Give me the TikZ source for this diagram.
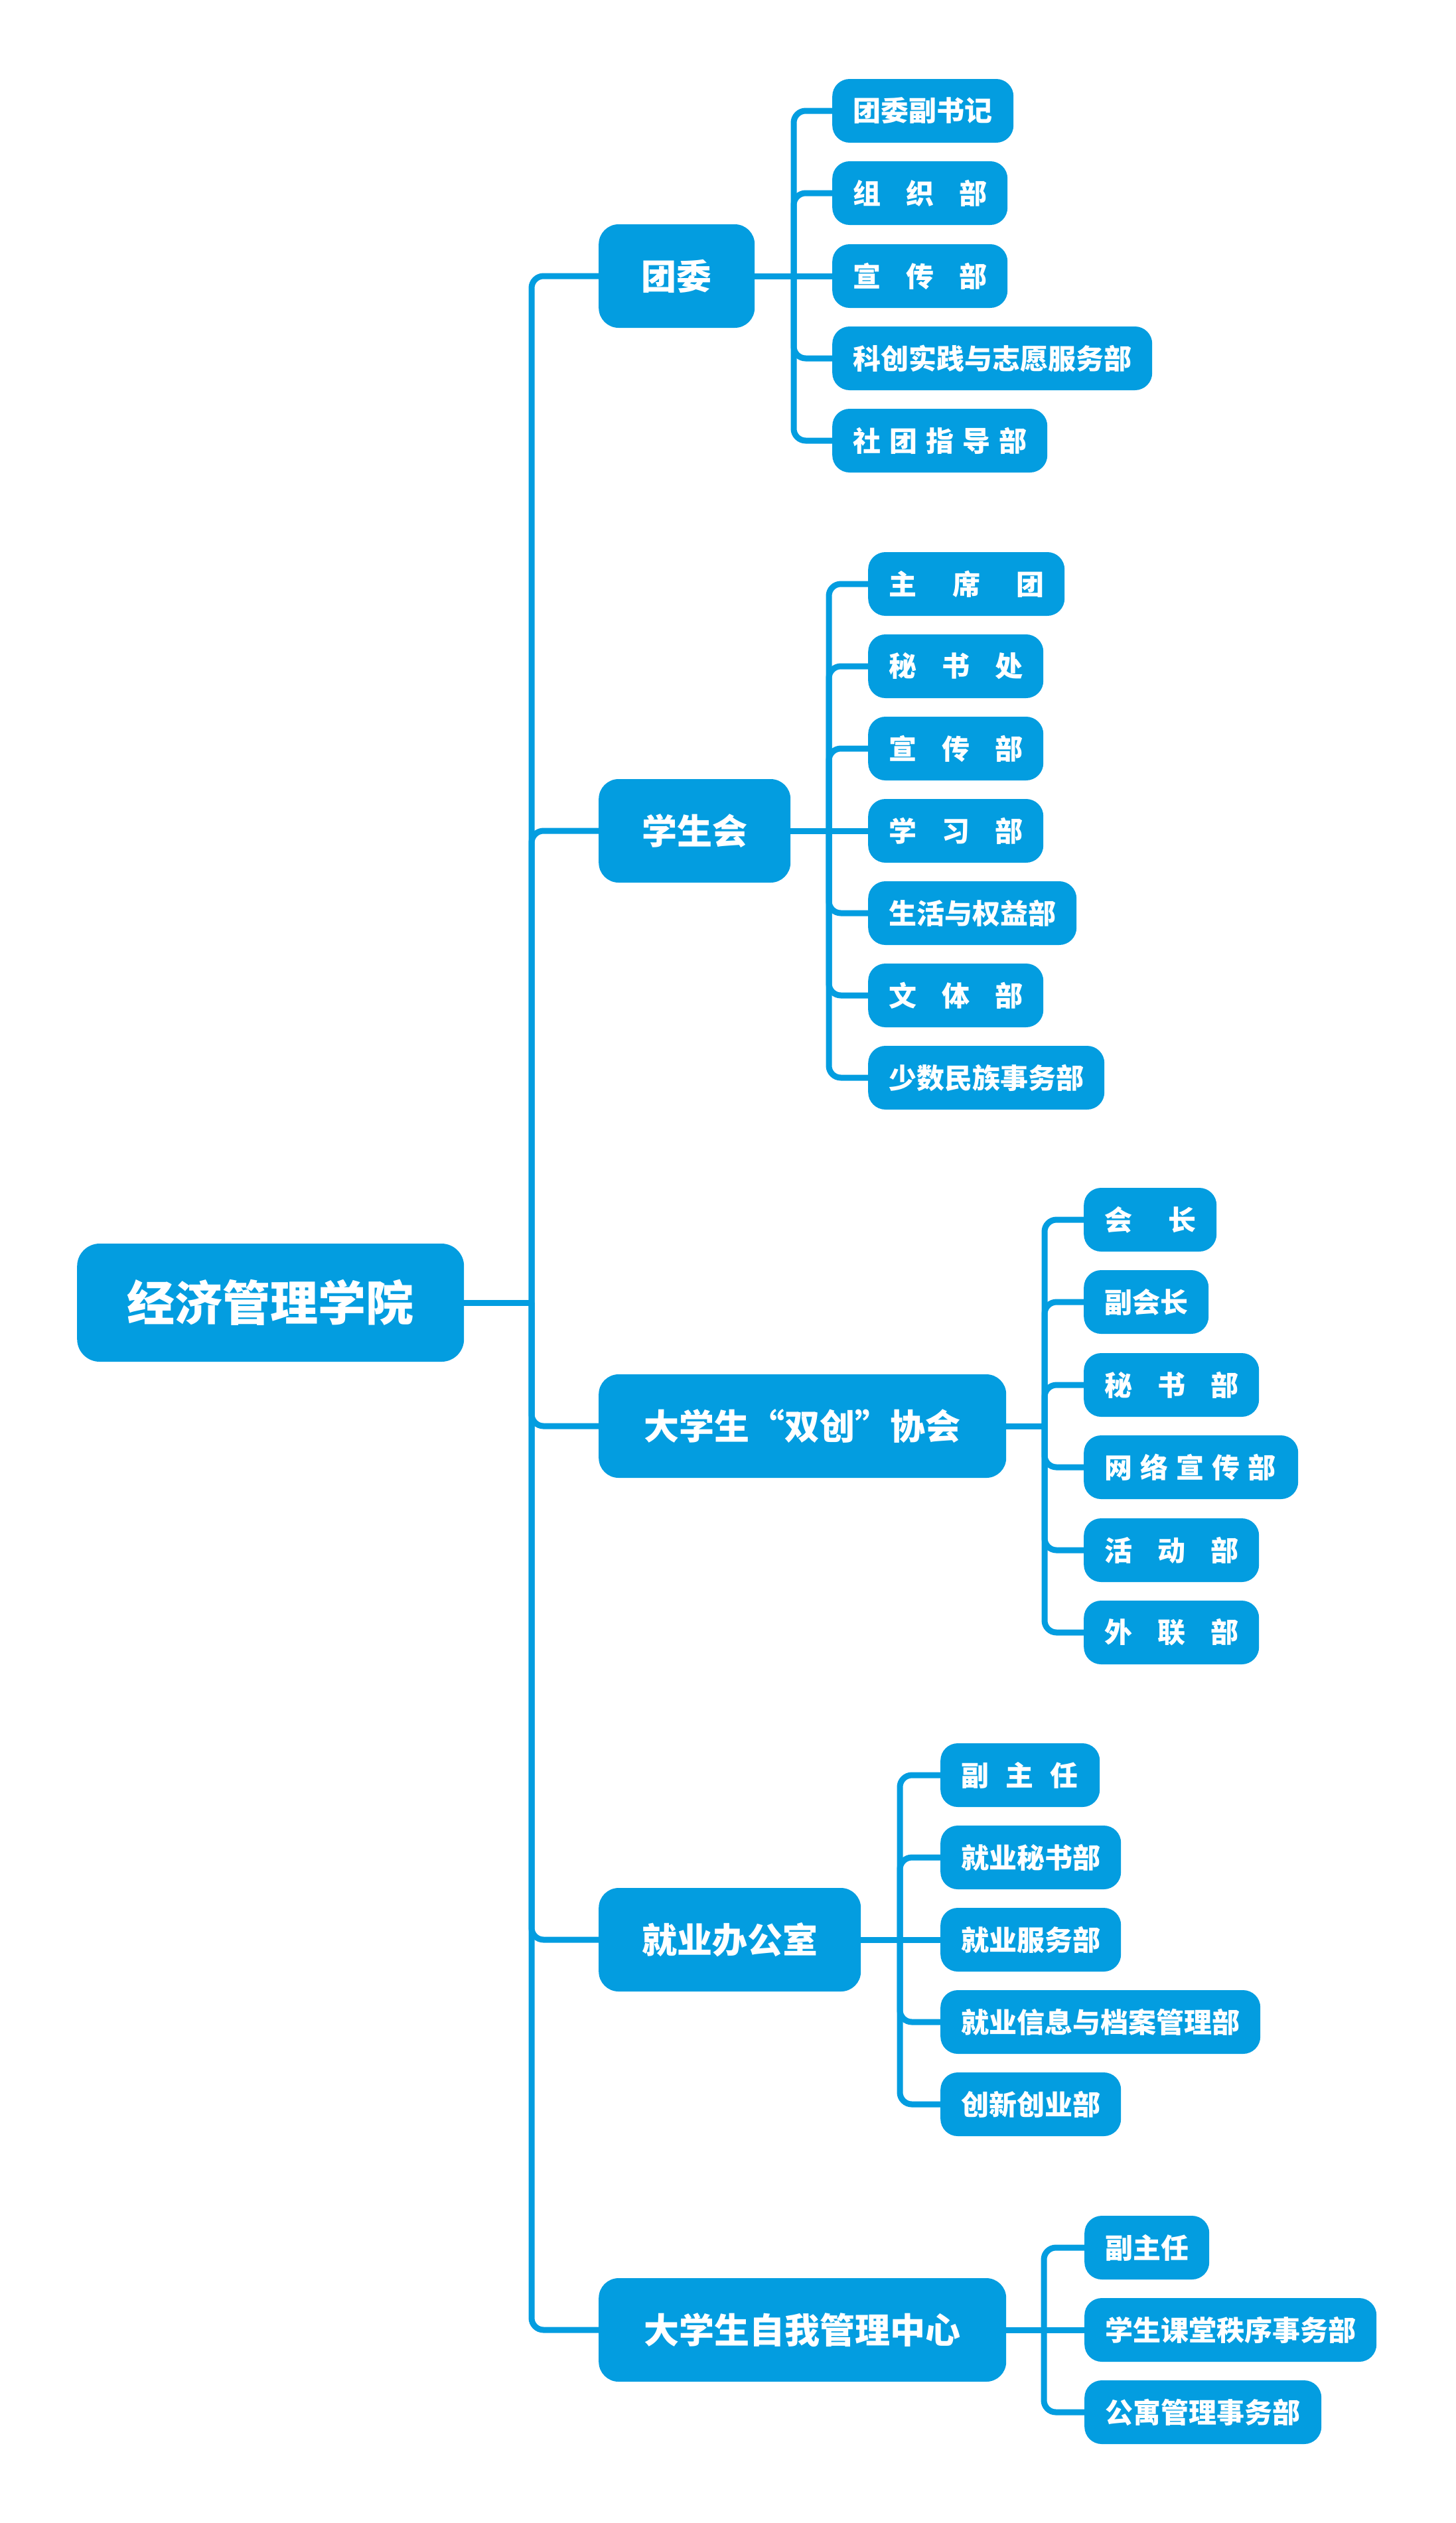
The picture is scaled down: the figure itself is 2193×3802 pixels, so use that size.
\documentclass[tikz,border=0pt]{standalone}
\usepackage{fontspec}
\newfontfamily\cjk{Noto Sans CJK SC}[BoldFont={Noto Sans CJK SC Black}]
\definecolor{org}{RGB}{3,157,224}
\begin{document}
\begin{tikzpicture}[x=1pt,y=-1pt,
  sbox/.style={fill=org, rounded corners=26pt, text=white,
    font=\cjk\bfseries\fontsize{42pt}{46pt}\selectfont,
    minimum height=96pt, inner xsep=31pt, inner ysep=0pt,
    anchor=west, align=left, text width=#1},
  mbox/.style={fill=org, rounded corners=30pt, text=white,
    font=\cjk\bfseries\fontsize{53pt}{58pt}\selectfont,
    minimum height=156pt, inner sep=0pt, anchor=west, minimum width=#1},
  rbox/.style={fill=org, rounded corners=34pt, text=white,
    font=\cjk\bfseries\fontsize{72pt}{78pt}\selectfont,
    minimum height=178pt, inner sep=0pt, anchor=west, minimum width=583pt},
  conn/.style={draw=org, line width=9pt, rounded corners=18pt}]
\useasboundingbox (0,0) rectangle (2193,3802);

% root
\node[rbox] (root) at (116,1963) {经济管理学院};

% level 1
\node[mbox=235pt] (tw) at (902,416) {团委};
\node[mbox=289pt] (xs) at (902,1252) {学生会};
\node[mbox=614pt] (sc) at (902,2149) {大学生“双创”协会};
\node[mbox=395pt] (jy) at (902,2923) {就业办公室};
\node[mbox=614pt] (zw) at (902,3511) {大学生自我管理中心};

% 团委 children
\node[sbox=211pt] (tw1) at (1254,167) {团委副书记};
\node[sbox=202pt] (tw2) at (1254,291) {组\hspace{38pt}织\hspace{38pt}部};
\node[sbox=202pt] (tw3) at (1254,416) {宣\hspace{38pt}传\hspace{38pt}部};
\node[sbox=420pt] (tw4) at (1254,540) {科创实践与志愿服务部};
\node[sbox=262pt] (tw5) at (1254,664) {社\hspace{13pt}团\hspace{13pt}指\hspace{13pt}导\hspace{13pt}部};

% 学生会 children
\node[sbox=234pt] (xs1) at (1308,880) {主\hspace{54pt}席\hspace{54pt}团};
\node[sbox=202pt] (xs2) at (1308,1004) {秘\hspace{38pt}书\hspace{38pt}处};
\node[sbox=202pt] (xs3) at (1308,1128) {宣\hspace{38pt}传\hspace{38pt}部};
\node[sbox=202pt] (xs4) at (1308,1252) {学\hspace{38pt}习\hspace{38pt}部};
\node[sbox=252pt] (xs5) at (1308,1376) {生活与权益部};
\node[sbox=202pt] (xs6) at (1308,1500) {文\hspace{38pt}体\hspace{38pt}部};
\node[sbox=294pt] (xs7) at (1308,1624) {少数民族事务部};

% 双创 children
\node[sbox=138pt] (sc1) at (1633,1838) {会\hspace{54pt}长};
\node[sbox=126pt] (sc2) at (1633,1962) {副会长};
\node[sbox=202pt] (sc3) at (1633,2087) {秘\hspace{38pt}书\hspace{38pt}部};
\node[sbox=261pt] (sc4) at (1633,2211) {网\hspace{12pt}络\hspace{12pt}宣\hspace{12pt}传\hspace{12pt}部};
\node[sbox=202pt] (sc5) at (1633,2336) {活\hspace{38pt}动\hspace{38pt}部};
\node[sbox=202pt] (sc6) at (1633,2460) {外\hspace{38pt}联\hspace{38pt}部};

% 就业 children
\node[sbox=178pt] (jy1) at (1417,2675) {副\hspace{25pt}主\hspace{25pt}任};
\node[sbox=210pt] (jy2) at (1417,2799) {就业秘书部};
\node[sbox=210pt] (jy3) at (1417,2923) {就业服务部};
\node[sbox=420pt] (jy4) at (1417,3047) {就业信息与档案管理部};
\node[sbox=210pt] (jy5) at (1417,3171) {创新创业部};

% 自我管理 children
\node[sbox=126pt] (zw1) at (1634,3387) {副主任};
\node[sbox=378pt] (zw2) at (1634,3511) {学生课堂秩序事务部};
\node[sbox=295pt] (zw3) at (1634,3635) {公寓管理事务部};

% trunk
\coordinate (rt) at (801,1963);
\draw[conn] (root.east) -- (rt);
\foreach \n in {tw,xs,sc,jy,zw} \draw[conn] (rt) |- (\n.west);

% 团委 bracket
\coordinate (twb) at (1196,416);
\draw[conn] (tw.east) -- (tw3.west);
\foreach \n in {tw1,tw2,tw4,tw5} \draw[conn] (twb) |- (\n.west);

% 学生会 bracket
\coordinate (xsb) at (1249,1252);
\draw[conn] (xs.east) -- (xs4.west);
\foreach \n in {xs1,xs2,xs3,xs5,xs6,xs7} \draw[conn] (xsb) |- (\n.west);

% 双创 bracket
\coordinate (scb) at (1574,2149);
\draw[conn] (sc.east) -- (scb);
\foreach \n in {sc1,sc2,sc3,sc4,sc5,sc6} \draw[conn] (scb) |- (\n.west);

% 就业 bracket
\coordinate (jyb) at (1356,2923);
\draw[conn] (jy.east) -- (jy3.west);
\foreach \n in {jy1,jy2,jy4,jy5} \draw[conn] (jyb) |- (\n.west);

% 自我管理 bracket
\coordinate (zwb) at (1573,3511);
\draw[conn] (zw.east) -- (zw2.west);
\foreach \n in {zw1,zw3} \draw[conn] (zwb) |- (\n.west);
\end{tikzpicture}
\end{document}
